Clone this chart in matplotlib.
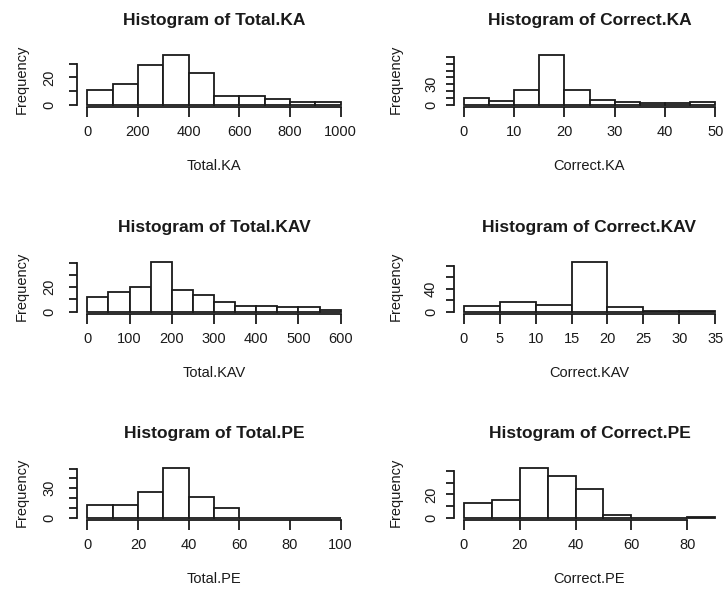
"""Six R-style histograms (Total / Correct scores for KA, KAV and PE)."""

import matplotlib

matplotlib.use("Agg")
import matplotlib.pyplot as plt

W, H = 724, 593
INK = "#1a1a1a"

plt.rcParams["font.family"] = ["Liberation Sans", "DejaVu Sans"]

# --- data ------------------------------------------------------------------
total_ka_edges = [0, 100, 200, 300, 400, 500, 600, 700, 800, 900, 1000]
total_ka_counts = [11, 15, 29, 37, 23, 6, 6, 4, 2, 2]

correct_ka_edges = [0, 5, 10, 15, 20, 25, 30, 35, 40, 45, 50]
correct_ka_counts = [9, 5, 21, 74, 21, 7, 3, 2, 2, 3]

total_kav_edges = [0, 50, 100, 150, 200, 250, 300, 350, 400, 450, 500, 550, 600]
total_kav_counts = [12, 16, 20, 41, 18, 14, 8, 5, 5, 4, 4, 1]

correct_kav_edges = [0, 5, 10, 15, 20, 25, 30, 35]
correct_kav_counts = [9, 16, 11, 87, 8, 1, 1]

total_pe_edges = [0, 10, 20, 30, 40, 50, 60, 70, 80, 90, 100]
total_pe_counts = [13, 13, 26, 51, 21, 10, 0, 0, 0, 0]

correct_pe_edges = [0, 10, 20, 30, 40, 50, 60, 70, 80, 90]
correct_pe_counts = [13, 15, 43, 36, 25, 2, 0, 0, 1]

variables = ["Total.KA", "Correct.KA", "Total.KAV", "Correct.KAV", "Total.PE", "Correct.PE"]

x_ticks = [
    [0, 200, 400, 600, 800, 1000],
    [0, 10, 20, 30, 40, 50],
    [0, 100, 200, 300, 400, 500, 600],
    [0, 5, 10, 15, 20, 25, 30, 35],
    [0, 20, 40, 60, 80, 100],
    [0, 20, 40, 60, 80],
]
y_ticks = [
    [0, 10, 20, 30],
    [0, 10, 20, 30, 40, 50, 60, 70],
    [0, 10, 20, 30, 40],
    [0, 20, 40, 60, 80],
    [0, 10, 20, 30, 40, 50],
    [0, 10, 20, 30, 40],
]
# R drops tick labels that would overlap, only these survive
y_shown = [[0, 20], [0, 30], [0, 20], [0, 40], [0, 30], [0, 20]]

panels = [
    (total_ka_edges, total_ka_counts),
    (correct_ka_edges, correct_ka_counts),
    (total_kav_edges, total_kav_counts),
    (correct_kav_edges, correct_kav_counts),
    (total_pe_edges, total_pe_counts),
    (correct_pe_edges, correct_pe_counts),
]

# --- layout (pixels) ---------------------------------------------------------
row_base = [104.5, 311.6, 517.7]   # y pixel of the zero line in each row
col_left = [77.2, 453.6]
col_width = [273.6, 271.8]
ytick_off = [27.7, 22.5]           # centre of y tick labels left of the spine
ylab_x = [22.0, 395.3]
BAR_PX = 50.0                      # height of tallest bar in pixels
LW = 1.3


def fx(px):
    return px / W


def fy(py):
    return 1 - py / H


def main() -> None:
    fig = plt.figure(figsize=(W / 100, H / 100), dpi=100)

    for i, (edges, counts) in enumerate(panels):
        row, col = divmod(i, 2)
        base = row_base[row]
        left = col_left[col]
        width = col_width[col]
        pad_px = BAR_PX * 0.04
        ax = fig.add_axes(
            [fx(left), fy(base + pad_px), fx(width), (BAR_PX + 2 * pad_px) / H]
        )

        widths = [b - a for a, b in zip(edges[:-1], edges[1:])]
        ax.bar(
            edges[:-1], counts, width=widths, align="edge",
            color="white", edgecolor=INK, linewidth=LW,
        )

        ymax = max(counts)
        ax.set_ylim(-0.04 * ymax, 1.04 * ymax)
        span = edges[-1] - edges[0]
        ax.set_xlim(edges[0] - 0.04 * span, edges[-1] + 0.04 * span)

        for side in ("top", "right"):
            ax.spines[side].set_visible(False)
        ax.spines["left"].set_bounds(y_ticks[i][0], y_ticks[i][-1])
        ax.spines["bottom"].set_bounds(x_ticks[i][0], x_ticks[i][-1])
        for side in ("left", "bottom"):
            ax.spines[side].set_linewidth(LW)
            ax.spines[side].set_color(INK)
        ax.set_facecolor("none")

        ax.set_xticks(x_ticks[i], [str(t) for t in x_ticks[i]])
        ax.set_yticks(
            y_ticks[i], [str(t) if t in y_shown[i] else "" for t in y_ticks[i]]
        )
        ax.tick_params(axis="x", length=7.2, width=LW, color=INK,
                       labelsize=10.5, labelcolor=INK, pad=11.0)
        ypad = (ytick_off[col] - 8) * 0.72
        ax.tick_params(axis="y", length=5.8, width=LW, color=INK,
                       labelsize=10.5, labelcolor=INK, pad=ypad)
        for lab in ax.get_xticklabels():
            lab.set_verticalalignment("center")
        for lab in ax.get_yticklabels():
            lab.set_rotation(90)
            lab.set_horizontalalignment("center")
            lab.set_verticalalignment("center")

        cx = left + width / 2
        fig.text(fx(cx), fy(base - 84), f"Histogram of {variables[i]}",
                 ha="center", va="center", fontsize=12.5, fontweight="bold",
                 color=INK)
        fig.text(fx(cx), fy(base + 61.5), variables[i],
                 ha="center", va="center", fontsize=10.5, color=INK)
        fig.text(fx(ylab_x[col]), fy(base - BAR_PX / 2), "Frequency",
                 ha="center", va="center", rotation=90, fontsize=10.5,
                 color=INK)

    fig.savefig("out.png", dpi=100, facecolor="white")


if __name__ == "__main__":
    main()
